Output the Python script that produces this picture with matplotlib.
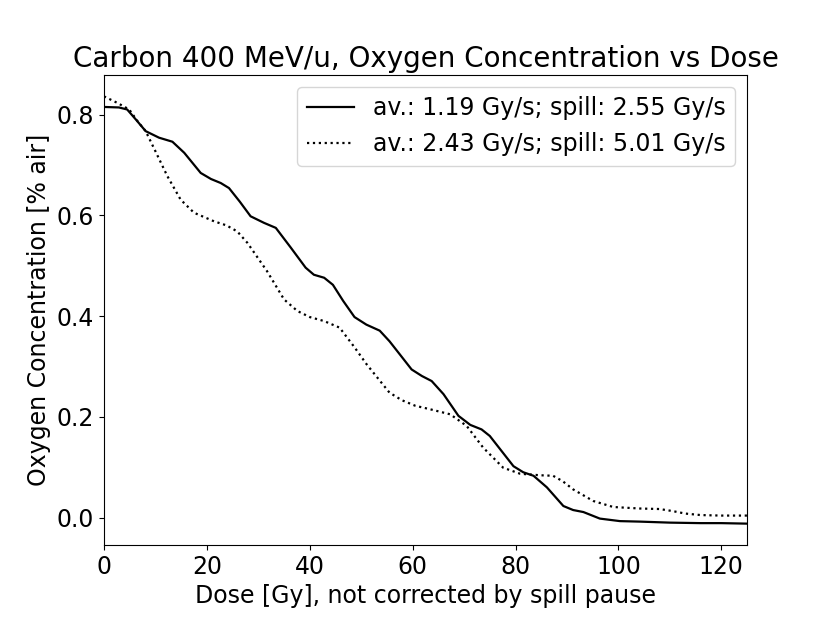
import matplotlib
matplotlib.use("Agg")
import matplotlib.pyplot as plt
import numpy as np

# solid line: av. 1.19 Gy/s
dose_slow = [0, 2.9, 4.5, 6.2, 8.1, 10.7, 13.3, 15.6, 18.8, 20.8, 22.7, 24.3, 26.4,
             28.5, 31.1, 33.4, 36.3, 39.2, 40.8, 42.8, 44.5, 46.5, 48.7, 51, 53.6,
             55.5, 57.5, 59.8, 61.8, 63.7, 66.0, 68.9, 71.2, 73.4, 75.0, 77.3, 79.6,
             81.5, 83.5, 86.1, 89.3, 91.2, 93.2, 96.4, 100.3, 104.2, 110, 116, 120, 125]
oxy_slow = [0.815, 0.814, 0.810, 0.790, 0.767, 0.754, 0.746, 0.724, 0.684, 0.672,
            0.664, 0.654, 0.627, 0.598, 0.585, 0.575, 0.536, 0.496, 0.482, 0.476,
            0.462, 0.430, 0.398, 0.383, 0.371, 0.350, 0.324, 0.294, 0.281, 0.271,
            0.245, 0.202, 0.184, 0.175, 0.162, 0.132, 0.102, 0.090, 0.083, 0.060,
            0.023, 0.015, 0.011, -0.002, -0.007, -0.008, -0.010, -0.011, -0.011, -0.012]

# dotted line: av. 2.43 Gy/s
dose_fast = [0, 2.6, 4.9, 6.5, 8.1, 10.0, 12.3, 14.9, 17.5, 21.4, 23.8, 25.9, 27.9,
             31.7, 35.0, 37.6, 40.0, 42.8, 45.8, 48.7, 51, 53.6, 55.5, 57.9, 60.5,
             63.4, 67.3, 70.5, 73.7, 77.6, 80.9, 84.8, 87.3, 89.2, 91.2, 95.1, 99.0,
             104.2, 108, 110.5, 113, 116, 120, 125]
oxy_fast = [0.836, 0.823, 0.810, 0.787, 0.767, 0.727, 0.678, 0.631, 0.605, 0.588,
            0.580, 0.568, 0.545, 0.489, 0.433, 0.410, 0.398, 0.390, 0.377, 0.338,
            0.305, 0.272, 0.248, 0.233, 0.222, 0.215, 0.205, 0.182, 0.139, 0.099,
            0.087, 0.084, 0.083, 0.072, 0.056, 0.033, 0.021, 0.018, 0.017, 0.013,
            0.008, 0.005, 0.004, 0.004]

labels = ["av.: 1.19 Gy/s; spill: 2.55 Gy/s",
          "av.: 2.43 Gy/s; spill: 5.01 Gy/s"]

fig = plt.figure(figsize=(8.3, 6.23), dpi=100)
ax = fig.add_axes([0.1253, 0.1252, 0.7747, 0.7544])

ax.plot(dose_slow, oxy_slow, color="black", linestyle="-", linewidth=1.6,
        solid_joinstyle="round", label=labels[0])
ax.plot(dose_fast, oxy_fast, color="black", linestyle=":", linewidth=1.6,
        label=labels[1])

ax.set_xlim(0, 125)
ax.set_xlabel("Dose [Gy], not corrected by spill pause", fontsize=17)
ax.set_ylabel("Oxygen Concentration [% air]", fontsize=17)
ax.set_title("Carbon 400 MeV/u, Oxygen Concentration vs Dose", fontsize=20)
ax.tick_params(labelsize=17)
ax.legend(loc="upper right", fontsize=17)

fig.savefig("out.png", dpi=100)
